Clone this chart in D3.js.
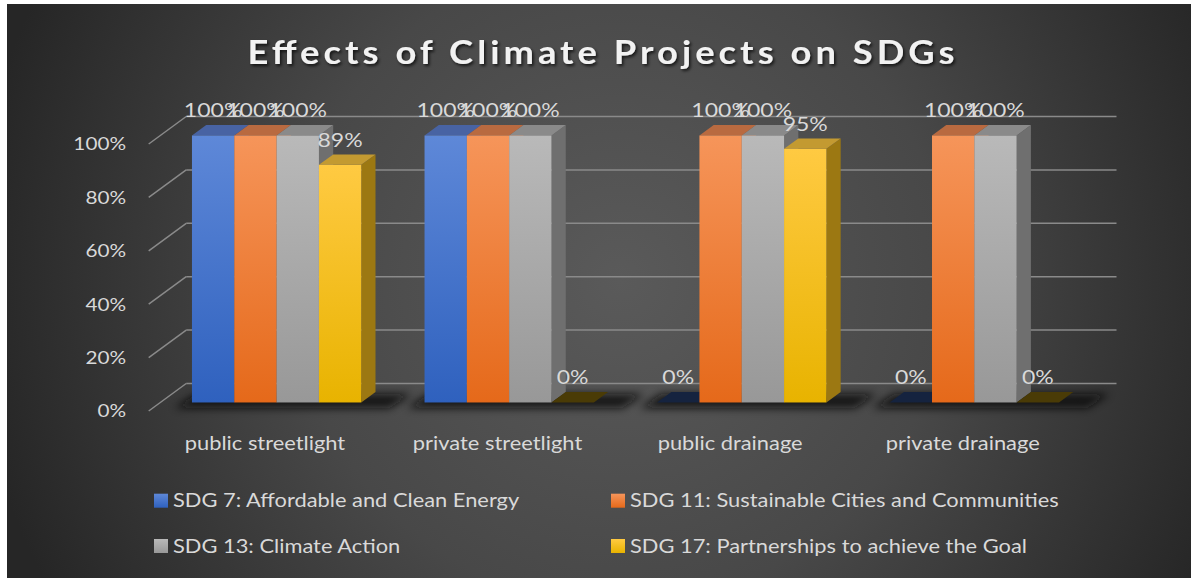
<!DOCTYPE html>
<html>
<head>
<meta charset="utf-8">
<script src="https://cdn.jsdelivr.net/npm/d3@7"></script>
<style>
  html, body { margin: 0; padding: 0; background: #fff; }
  svg { display: block; font-family: Lato, "Open Sans", sans-serif; }
</style>
</head>
<body>
<svg></svg>
<script>
// data
const categories = ["public streetlight", "private streetlight", "public drainage", "private drainage"];
const seriesNames = [
  "SDG 7: Affordable and Clean Energy",
  "SDG 11: Sustainable Cities and Communities",
  "SDG 13: Climate Action",
  "SDG 17: Partnerships to achieve the Goal"
];
const sdg7 = [1, 1, 0, 0];
const sdg11 = [1, 1, 1, 1];
const sdg13 = [1, 1, 1, 1];
const sdg17 = [0.89, 0, 0.95, 0];
const yTicks = [0, 0.2, 0.4, 0.6, 0.8, 1];

const seriesValues = [sdg7, sdg11, sdg13, sdg17];

// colours per series: front top / front bottom / top face / side / flat zero face
const palette = [
  { top: "#5e88d8", bottom: "#2f61be", cap: "#4863a3", side: "#2b4d8c", zero: "#15233f" },
  { top: "#f6955a", bottom: "#e5691a", cap: "#b96a40", side: "#a9582a", zero: "#4a2a12" },
  { top: "#b9b9b9", bottom: "#989898", cap: "#8a8a8a", side: "#6f6f6f", zero: "#3a3a3a" },
  { top: "#ffca42", bottom: "#e8b300", cap: "#c39a31", side: "#9c7812", zero: "#4a3b06" }
];

const svgWidth = 1191;
const svgHeight = 578;
const stretch = 1.15; // the picture's text is wider than Lato

// front plane of the 3d box and the depth offset to the back wall
const plot = { left: 148.7, right: 1079, bottom: 411, top: 144 };
const depth = { dx: 37.5, dy: -27.5 };
const barFrom = 0.31, barTo = 0.69; // bar position in the depth of the box

const svg = d3.select("svg")
  .attr("width", svgWidth)
  .attr("height", svgHeight);

const defs = svg.append("defs");

const bg = defs.append("radialGradient")
  .attr("id", "bg")
  .attr("gradientUnits", "userSpaceOnUse")
  .attr("cx", 620).attr("cy", 280).attr("r", 650);
bg.append("stop").attr("offset", "0").attr("stop-color", "#5a5a5a");
bg.append("stop").attr("offset", "0.5").attr("stop-color", "#484848");
bg.append("stop").attr("offset", "1").attr("stop-color", "#262626");

palette.forEach((p, i) => {
  const g = defs.append("linearGradient")
    .attr("id", "front" + i)
    .attr("x1", 0).attr("y1", 0).attr("x2", 0).attr("y2", 1);
  g.append("stop").attr("offset", "0").attr("stop-color", p.top);
  g.append("stop").attr("offset", "1").attr("stop-color", p.bottom);
});

defs.append("filter")
  .attr("id", "blur")
  .attr("x", "-20%").attr("y", "-100%").attr("width", "140%").attr("height", "300%")
  .append("feGaussianBlur")
  .attr("stdDeviation", 4);

const titleShadow = defs.append("filter")
  .attr("id", "tshadow")
  .attr("x", "-5%").attr("y", "-30%").attr("width", "110%").attr("height", "160%");
titleShadow.append("feDropShadow")
  .attr("dx", 1.5).attr("dy", 2).attr("stdDeviation", 1.5)
  .attr("flood-color", "#000").attr("flood-opacity", 0.7);

svg.append("rect")
  .attr("x", 7).attr("y", 4)
  .attr("width", svgWidth - 7).attr("height", svgHeight - 4)
  .attr("fill", "url(#bg)");

const xScale = d3.scaleBand()
  .domain(categories)
  .range([plot.left, plot.right]);

const yScale = d3.scaleLinear()
  .domain([0, 1])
  .range([plot.bottom, plot.top]);

const inner = d3.scaleBand()
  .domain(d3.range(seriesNames.length))
  .range([0, 169.3]);

const pct = d3.format(".0%");

// back wall gridlines and left wall diagonals
const grid = svg.append("g")
  .attr("stroke", "#8a8a8a")
  .attr("stroke-width", 1.5)
  .attr("fill", "none");

grid.selectAll(".back")
  .data(yTicks)
  .join("line")
  .attr("x1", plot.left + depth.dx)
  .attr("x2", plot.right + depth.dx)
  .attr("y1", (d) => yScale(d) + depth.dy)
  .attr("y2", (d) => yScale(d) + depth.dy);

grid.selectAll(".side")
  .data(yTicks)
  .join("line")
  .attr("x1", plot.left)
  .attr("x2", plot.left + depth.dx)
  .attr("y1", (d) => yScale(d))
  .attr("y2", (d) => yScale(d) + depth.dy);

// y axis labels
svg.append("g")
  .selectAll("text")
  .data(yTicks)
  .join("text")
  .attr("class", "wide")
  .attr("x", 126)
  .attr("y", (d) => yScale(d))
  .attr("dy", "0.35em")
  .attr("text-anchor", "end")
  .attr("fill", "#d9d9d9")
  .attr("font-size", 18)
  .text(pct);

// floor shadows under each group
const groupW = inner.range()[1];
const offX = (xScale.bandwidth() - groupW) / 2;

svg.append("g")
  .selectAll("path")
  .data(categories)
  .join("path")
  .attr("filter", "url(#blur)")
  .attr("fill", "#0a0a0a")
  .attr("opacity", 0.85)
  .attr("d", (c) => {
    const x0 = xScale(c) + offX - 6;
    const x1 = x0 + groupW + 46;
    const yb = plot.bottom - 3;
    return `M${x0},${yb} L${x1},${yb} L${x1 + 22},${yb - 14} L${x0 + 22},${yb - 14} Z`;
  });

// bars
const bars = [];
categories.forEach((c, ci) => {
  seriesValues.forEach((vals, si) => {
    bars.push({ cat: c, series: si, value: vals[ci] });
  });
});

const fx = barFrom * depth.dx, fy = barFrom * depth.dy;
const bdx = (barTo - barFrom) * depth.dx, bdy = (barTo - barFrom) * depth.dy;
const bw = inner.bandwidth();

function barX(d) { return xScale(d.cat) + offX + inner(d.series) + fx; }
function barTop(d) { return yScale(d.value) + fy; }
const barBottom = yScale(0) + fy;

const barG = svg.append("g")
  .selectAll("g")
  .data(bars)
  .join("g");

barG.filter((d) => d.value > 0)
  .append("polygon")
  .attr("fill", (d) => palette[d.series].side)
  .attr("points", (d) => {
    const x = barX(d) + bw, t = barTop(d);
    return [[x, t], [x + bdx, t + bdy], [x + bdx, barBottom + bdy], [x, barBottom]].join(" ");
  });

barG.append("polygon")
  .attr("fill", (d) => d.value > 0 ? palette[d.series].cap : palette[d.series].zero)
  .attr("points", (d) => {
    const x = barX(d), t = barTop(d);
    return [[x, t], [x + bdx, t + bdy], [x + bw + bdx, t + bdy], [x + bw, t]].join(" ");
  });

barG.filter((d) => d.value > 0)
  .append("rect")
  .attr("x", barX)
  .attr("y", barTop)
  .attr("width", bw)
  .attr("height", (d) => barBottom - barTop(d))
  .attr("fill", (d) => `url(#front${d.series})`);

// data labels
svg.append("g")
  .selectAll("text")
  .data(bars)
  .join("text")
  .attr("class", "wide")
  .attr("x", (d) => barX(d) + bw / 2)
  .attr("y", (d) => barTop(d) - 25)
  .attr("dy", "0.35em")
  .attr("text-anchor", "middle")
  .attr("fill", "#d9d9d9")
  .attr("font-size", 20)
  .text((d) => pct(d.value));

// category labels
svg.append("g")
  .selectAll("text")
  .data(categories)
  .join("text")
  .attr("class", "wide")
  .attr("x", (d) => xScale(d) + xScale.bandwidth() / 2)
  .attr("y", 443)
  .attr("dy", "0.35em")
  .attr("text-anchor", "middle")
  .attr("fill", "#d9d9d9")
  .attr("font-size", 19)
  .text((d) => d);

// title: glyphs widened a little, the rest taken up by letter spacing
const titleScale = 1.1;
svg.append("g")
  .attr("transform", `translate(601,52) scale(${titleScale},1)`)
  .append("text")
  .attr("dy", "0.35em")
  .attr("text-anchor", "middle")
  .attr("fill", "#f2f2f2")
  .attr("font-size", 33)
  .attr("font-weight", 700)
  .attr("textLength", 707 / titleScale)
  .attr("lengthAdjust", "spacing")
  .attr("filter", "url(#tshadow)")
  .text("Effects of Climate Projects on SDGs");

// legend, two columns by two rows
const legendX = [154, 611];
const legendY = [500.7, 546];

const legend = svg.append("g")
  .selectAll("g")
  .data(seriesNames)
  .join("g")
  .attr("transform", (d, i) => `translate(${legendX[i % 2]},${legendY[Math.floor(i / 2)]})`);

legend.append("rect")
  .attr("x", 0)
  .attr("y", -7)
  .attr("width", 14)
  .attr("height", 14)
  .attr("fill", (d, i) => `url(#front${i})`);

legend.append("text")
  .attr("class", "wide")
  .attr("x", 19)
  .attr("dy", "0.35em")
  .attr("fill", "#d9d9d9")
  .attr("font-size", 19)
  .text((d) => d);

// widen the body text to the picture's proportions
svg.selectAll("text.wide").each(function () {
  const w = this.getComputedTextLength();
  d3.select(this)
    .attr("textLength", w * stretch)
    .attr("lengthAdjust", "spacingAndGlyphs");
});
</script>
</body>
</html>
